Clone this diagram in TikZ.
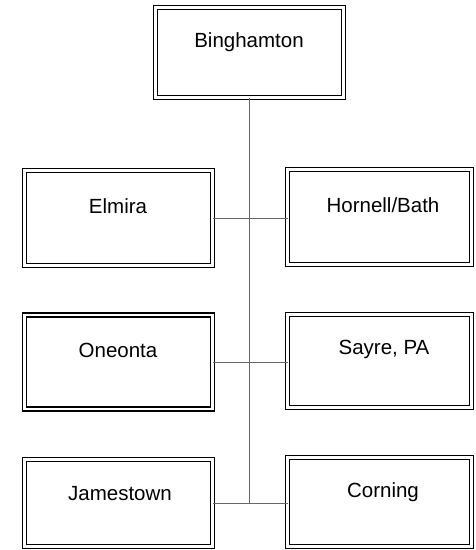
\documentclass[tikz,border=0pt]{standalone}
\usepackage{fontspec}
\setmainfont{Liberation Sans}
\begin{document}
\begin{tikzpicture}[x=1pt,y=-1pt,
  box/.style={draw=black, line width=1.35pt, double=white, double distance=2.4pt,
    rectangle, inner sep=0pt, outer sep=0pt},
  lbl/.style={anchor=base, inner sep=0pt, font=\fontsize{20.5}{24}\selectfont},
  conn/.style={draw=black!60, line width=0.75pt}]
\useasboundingbox (0,0) rectangle (476,550);
% boxes
\node[box, minimum width=188pt, minimum height=90pt] (bing) at (249.5,52.5) {};
\node[box, minimum width=188pt, minimum height=95pt] (elm) at (118.5,218) {};
\node[box, minimum width=184pt, minimum height=95pt] (hor) at (379.5,217) {};
\node[box, minimum width=188pt, minimum height=94pt] (one) at (118.5,362) {};
\node[box, minimum width=184pt, minimum height=93pt] (say) at (379.5,361) {};
\node[box, minimum width=188pt, minimum height=87pt] (jam) at (118.5,503) {};
\node[box, minimum width=184pt, minimum height=89pt] (cor) at (379.5,502) {};
% labels
\node[lbl] (tbing) at (249,47) {Binghamton};
\node[lbl] (telm) at (118,213) {Elmira};
\node[lbl] (thor) at (383,212) {Hornell/Bath};
\node[lbl] (tone) at (118,357) {Oneonta};
\node[lbl] (tsay) at (384,354) {Sayre, PA};
\node[lbl] (tjam) at (120,500) {Jamestown};
\node[lbl] (tcor) at (383,497) {Corning};
% connectors
\coordinate (j3) at (249,503);
\draw[conn] (bing.south -| j3) -- (j3);
\draw[conn] (elm.east) -- (hor.west |- elm.east);
\draw[conn] (one.east) -- (say.west |- one.east);
\draw[conn] (jam.east) -- (cor.west |- jam.east);
\end{tikzpicture}
\end{document}
